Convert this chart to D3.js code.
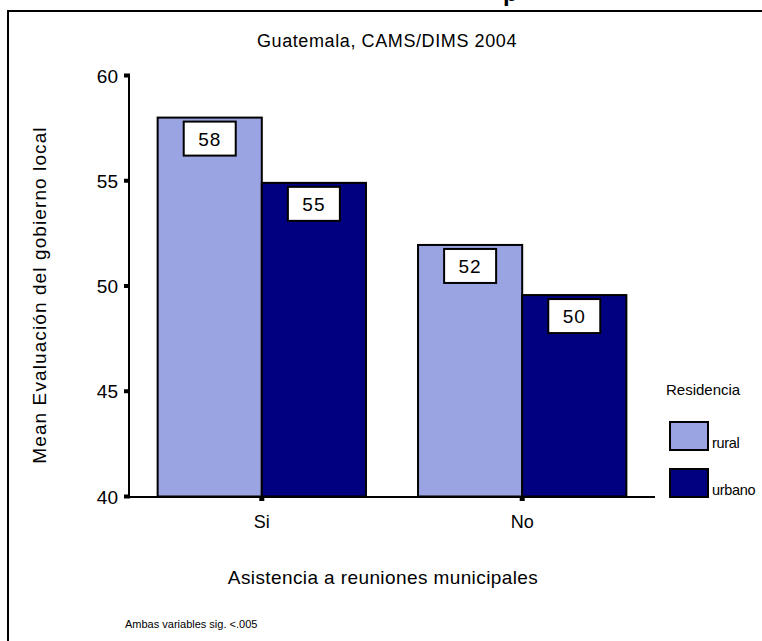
<!DOCTYPE html>
<html><head><meta charset="utf-8">
<script src="https://cdn.jsdelivr.net/npm/d3@7"></script>
<style>body{margin:0;background:#fff}svg{display:block}text{font-family:Arial,"Liberation Sans",sans-serif}</style>
</head><body>
<script>
const categories = ["Si", "No"];
const seriesNames = ["rural", "urbano"];
const rural = [58.0, 51.95];
const urbano = [54.9, 49.57];
const labels = [["58", "55"], ["52", "50"]];
const yTicks = [40, 45, 50, 55, 60];
const colors = ["#9aa4e2", "#000080"];

const W = 762, H = 641;
const svg = d3.select("body").append("svg").attr("width", W).attr("height", H);

// frame
svg.append("path").attr("d", "M8,650 L8,11 L770,11").attr("fill", "none").attr("stroke", "#000").attr("stroke-width", 2);
// cut-off heading fragment (cropped in the reference too)
svg.append("text").attr("x", 503).attr("y", 1).attr("font-family", "Liberation Serif").attr("font-weight", "bold").attr("font-size", 24).text("p");

svg.append("text").attr("x", 387).attr("y", 47).attr("text-anchor", "middle").attr("font-size", 18).attr("letter-spacing", 0.6).text("Guatemala, CAMS/DIMS 2004");

const y = d3.scaleLinear().domain([40, 60]).range([496.5, 75.5]);
const x = d3.scalePoint().domain(categories).range([129, 655]).padding(0.51);
const bw = x.step() * 0.4;

const data = categories.map((c, i) => [
  {cat: c, s: 0, v: rural[i], lab: labels[i][0]},
  {cat: c, s: 1, v: urbano[i], lab: labels[i][1]}
]).flat();

const g = svg.append("g");
g.selectAll("rect.bar").data(data).join("rect").attr("class", "bar")
  .attr("x", d => x(d.cat) + (d.s === 0 ? -bw : 0))
  .attr("y", d => y(d.v))
  .attr("width", bw)
  .attr("height", d => y(40) - y(d.v))
  .attr("fill", d => colors[d.s])
  .attr("stroke", "#000").attr("stroke-width", 2);

// value label boxes
const lg = g.selectAll("g.lab").data(data).join("g").attr("class", "lab")
  .attr("transform", d => `translate(${x(d.cat) + (d.s === 0 ? -bw / 2 : bw / 2)},${y(d.v) + 4})`);
lg.append("rect").attr("x", -26).attr("y", 0).attr("width", 52).attr("height", 34)
  .attr("fill", "#fff").attr("stroke", "#000").attr("stroke-width", 2);
lg.append("text").attr("x", 0).attr("y", 24).attr("text-anchor", "middle").attr("font-size", 19)
  .attr("letter-spacing", 1).text(d => d.lab);

// y axis
svg.append("line").attr("x1", 129).attr("x2", 129).attr("y1", y(60)).attr("y2", y(40) + 1).attr("stroke", "#000").attr("stroke-width", 2);
svg.selectAll("rect.yt").data(yTicks).join("rect").attr("class", "yt")
  .attr("x", 124).attr("y", d => y(d) - 2).attr("width", 6).attr("height", 4).attr("fill", "#000");
svg.selectAll("text.yt").data(yTicks).join("text").attr("class", "yt")
  .attr("x", 118).attr("y", d => y(d) + 7).attr("text-anchor", "end").attr("font-size", 19).text(d => d);

// x axis
svg.append("line").attr("x1", 125).attr("x2", 655).attr("y1", 497).attr("y2", 497).attr("stroke", "#000").attr("stroke-width", 2);
svg.selectAll("rect.xt").data(categories).join("rect").attr("class", "xt")
  .attr("x", d => x(d) - 2.5).attr("y", 497).attr("width", 5).attr("height", 4).attr("fill", "#000");
svg.selectAll("text.xt").data(categories).join("text").attr("class", "xt")
  .attr("x", d => x(d)).attr("y", 528).attr("text-anchor", "middle").attr("font-size", 18).text(d => d);

svg.append("text").attr("transform", "translate(46,295) rotate(-90)").attr("text-anchor", "middle")
  .attr("font-size", 19).attr("letter-spacing", 1.1).text("Mean Evaluación del gobierno local");
svg.append("text").attr("x", 383).attr("y", 584).attr("text-anchor", "middle").attr("font-size", 19)
  .attr("letter-spacing", 0.4).text("Asistencia a reuniones municipales");
svg.append("text").attr("x", 125).attr("y", 628).attr("font-size", 11).text("Ambas variables sig. <.005");

// legend
svg.append("text").attr("x", 666).attr("y", 395).attr("font-size", 15).text("Residencia");
const leg = svg.selectAll("g.leg").data(seriesNames).join("g").attr("class", "leg")
  .attr("transform", (d, i) => `translate(670,${422 + i * 47})`);
leg.append("rect").attr("width", 38).attr("height", 28).attr("fill", (d, i) => colors[i]).attr("stroke", "#000").attr("stroke-width", 2);
leg.append("text").attr("x", 42).attr("y", 26).attr("font-size", 14.5).attr("letter-spacing", -0.3).text(d => d);
</script>
</body></html>
